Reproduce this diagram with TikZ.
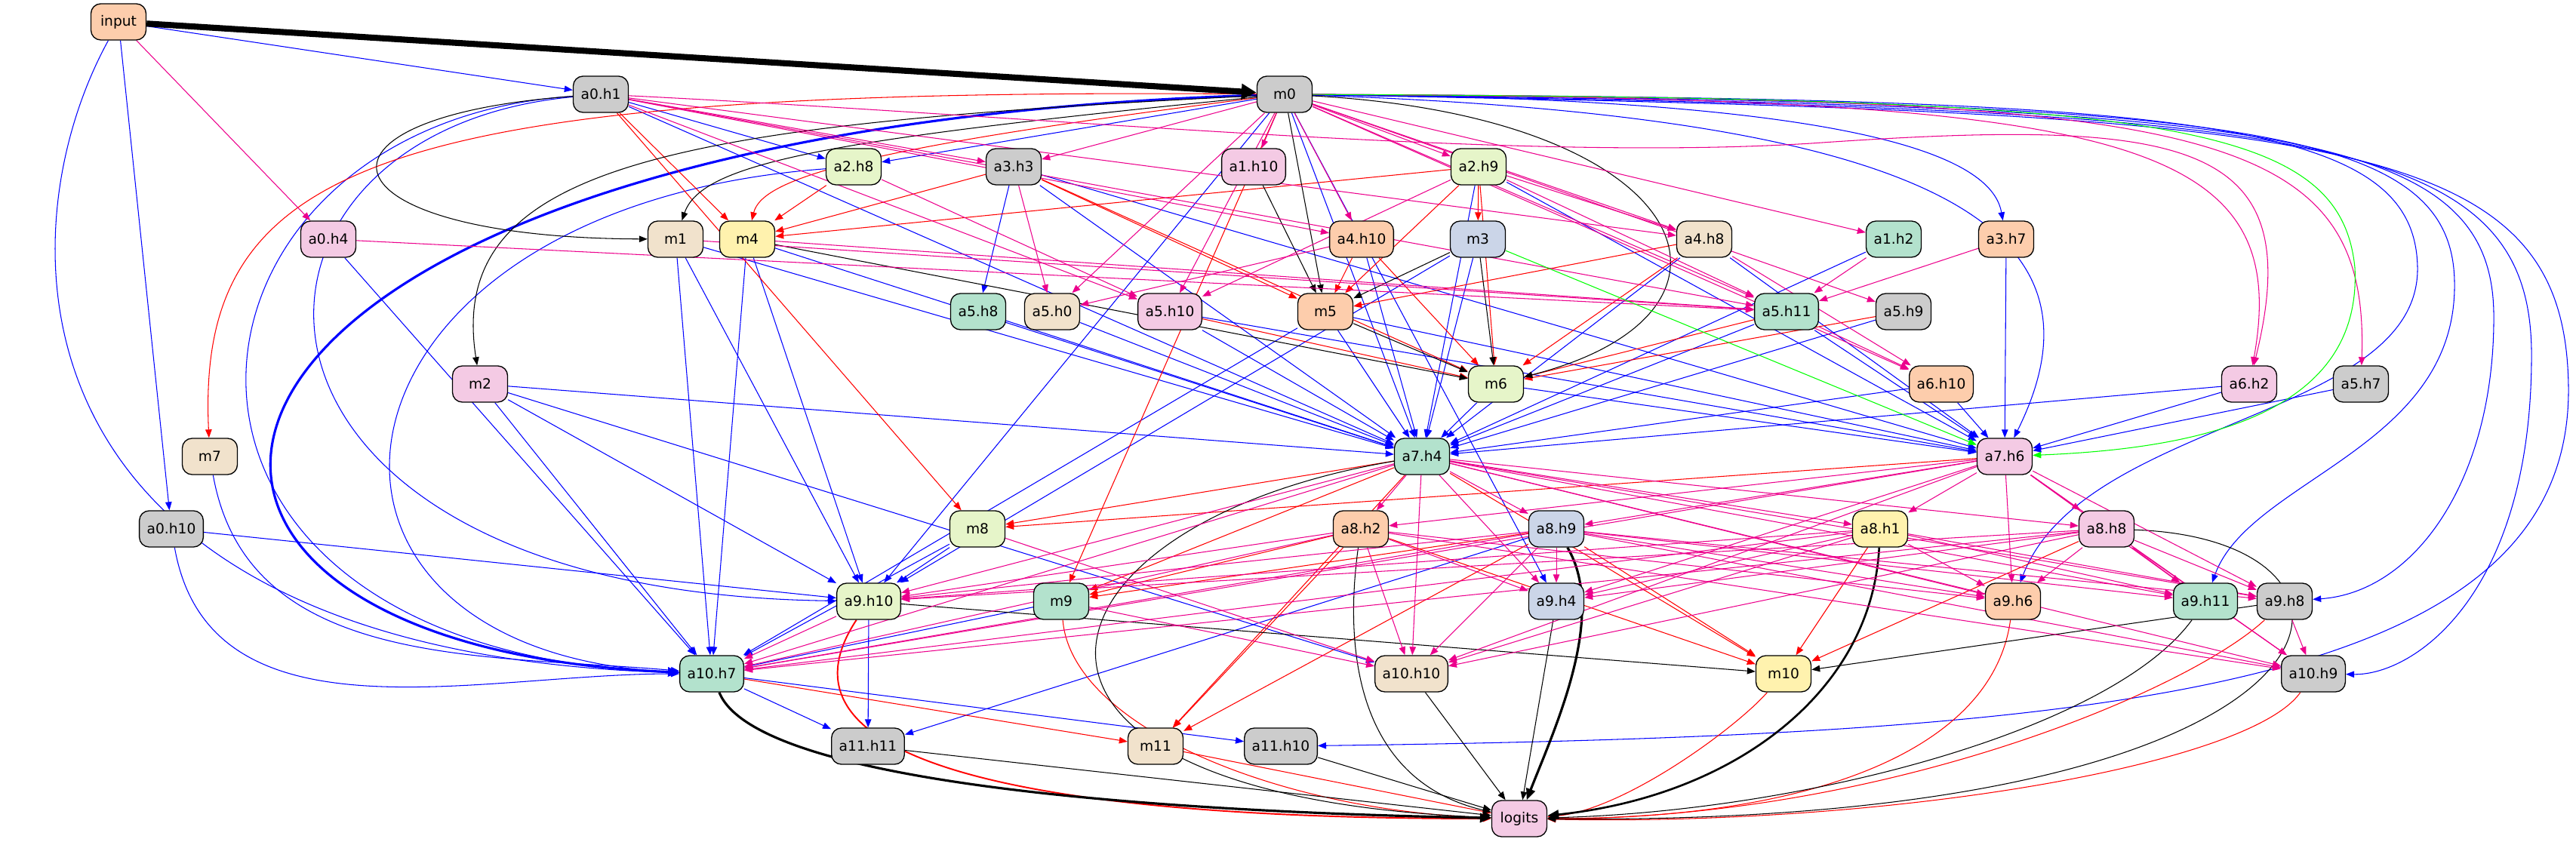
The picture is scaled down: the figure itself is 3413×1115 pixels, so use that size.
\documentclass[tikz,border=0pt]{standalone}
\usepackage{fontspec}
\setmainfont{DejaVu Sans}
\usetikzlibrary{arrows.meta,backgrounds}
\definecolor{cmint}{HTML}{B3E2CD}
\definecolor{cpeach}{HTML}{FDCDAC}
\definecolor{cblue}{HTML}{CBD5E8}
\definecolor{cpink}{HTML}{F4CAE4}
\definecolor{clgreen}{HTML}{E6F5C9}
\definecolor{cyellow}{HTML}{FFF2AE}
\definecolor{cbisque}{HTML}{F1E2CC}
\definecolor{cgray}{HTML}{CCCCCC}
\tikzset{
  box/.style={draw,rounded corners=0.13cm,minimum width=0.73cm,minimum height=0.48cm,
    inner xsep=0.1cm,inner ysep=0pt,line width=0.38pt,font=\fontsize{5.3}{6}\selectfont},
  ed/.style={line width=0.3pt,-{Triangle[length=1.1mm,width=0.85mm]}},
  eb/.style={ed,draw=blue},
  er/.style={ed,draw=red},
  em/.style={ed,draw=magenta},
  ek/.style={ed,draw=black},
  eg/.style={ed,draw=green},
  heavy/.style={line width=0.9pt,-{Triangle[length=1.5mm,width=1.2mm]}}
}
\begin{document}
\begin{tikzpicture}[x=0.01cm,y=0.01cm]
\useasboundingbox (0,0) rectangle (3413,1115);
% nodes: name/label/x/rank/fill
\foreach \nm/\lab/\x/\rk/\col in {%
  input/input/157/0/cpeach,
  a0h1/a0.h1/796/1/cgray, m0/m0/1702/1/cgray,
  a2h8/a2.h8/1131/2/clgreen, a3h3/a3.h3/1343/2/cgray, a1h10/a1.h10/1661/2/cpink, a2h9/a2.h9/1959/2/clgreen,
  a0h4/a0.h4/435/3/cpink, m1/m1/895/3/cbisque, m4/m4/990/3/cyellow, a4h10/a4.h10/1804/3/cpeach,
  m3/m3/1958/3/cblue, a4h8/a4.h8/2258/3/cbisque, a1h2/a1.h2/2509/3/cmint, a3h7/a3.h7/2658/3/cpeach,
  a5h8/a5.h8/1296/4/cmint, a5h0/a5.h0/1394/4/cbisque, a5h10/a5.h10/1550/4/cpink, m5/m5/1756/4/cpeach,
  a5h11/a5.h11/2367/4/cmint, a5h9/a5.h9/2522/4/cgray,
  m2/m2/636/5/cpink, m6/m6/1982/5/clgreen, a6h10/a6.h10/2572/5/cpeach, a6h2/a6.h2/2980/5/cpink, a5h7/a5.h7/3128/5/cgray,
  m7/m7/278/6/cbisque, a7h4/a7.h4/1884/6/cmint, a7h6/a7.h6/2656/6/cpink,
  a0h10/a0.h10/227/7/cgray, m8/m8/1295/7/clgreen, a8h2/a8.h2/1803/7/cpeach, a8h9/a8.h9/2062/7/cblue,
  a8h1/a8.h1/2491/7/cyellow, a8h8/a8.h8/2791/7/cpink,
  a9h10/a9.h10/1151/8/clgreen, m9/m9/1406/8/cmint, a9h4/a9.h4/2062/8/cblue, a9h6/a9.h6/2667/8/cpeach,
  a9h11/a9.h11/2922/8/cmint, a9h8/a9.h8/3027/8/cgray,
  a10h7/a10.h7/943/9/cmint, a10h10/a10.h10/1870/9/cbisque, m10/m10/2363/9/cyellow, a10h9/a10.h9/3065/9/cgray,
  a11h11/a11.h11/1150/10/cgray, m11/m11/1531/10/cbisque, a11h10/a11.h10/1697/10/cgray,
  logits/logits/2013/11/cpink}{%
    \node[box,fill=\col] (\nm) at (\x,{1086-96*\rk}) {\lab};
  }
\begin{scope}[on background layer]
  % blue
  \foreach \src/\tgt in {input/a0h1,input/a0h10,a0h1/a2h8,m0/a2h8,a3h3/a5h8,
    m0/a7h4,a0h1/a7h4,m1/a7h4,m4/a7h4,m2/a7h4,a3h3/a7h4,a5h8/a7h4,a5h0/a7h4,a5h10/a7h4,m5/a7h4,
    m6/a7h4,a2h9/a7h4,m3/a7h4,a4h10/a7h4,a4h8/a7h4,a1h2/a7h4,a5h11/a7h4,a5h9/a7h4,a6h10/a7h4,a6h2/a7h4,
    a6h10/a7h6,a6h2/a7h6,a5h7/a7h6,m6/a7h6,a5h11/a7h6,a3h7/a7h6,a3h3/a7h6,a2h9/a7h6,a4h8/a7h6,m5/a7h6,a5h10/a7h6,
    a0h10/a9h10,m2/a9h10,m0/a9h10,m1/a9h10,m4/a9h10,m8/a9h10,m3/a9h10,m0/a9h4,
    a0h4/a10h7,m1/a10h7,m2/a10h7,m4/a10h7,m8/a10h7,m9/a10h7,m5/a10h7,m2/a10h10,
    a10h7/a11h11,a9h10/a11h11,a8h9/a11h11,a10h7/a11h10}{%
      \draw[eb] (\src) -- (\tgt);
    }
  \draw[eb,heavy] (m0) .. controls (150,940) and (40,260) .. (a10h7);
  \draw[eb] (input) .. controls (0,800) and (0,250) .. (a10h7);
  \draw[eb] (a0h1) .. controls (200,950) and (120,250) .. (a10h7);
  \draw[eb] (a0h1) .. controls (260,940) and (250,330) .. (a9h10);
  \draw[eb] (a2h8) .. controls (400,840) and (330,250) .. (a10h7);
  \draw[eb] (a0h10) to[out=-80,in=180] (a10h7);
  \draw[eb] (m7) to[out=-80,in=175] (a10h7);
  \draw[eb] (m0) .. controls (2500,985) and (2640,900) .. (a3h7);
  \draw[eb] (m0) .. controls (2600,960) and (2800,800) .. (a7h6);
  \draw[eb] (m0) .. controls (2900,985) and (3200,960) .. (3203,760) .. controls (3205,560) and (2760,560) .. (a9h6);
  \draw[eb] (m0) .. controls (2950,980) and (3250,955) .. (3252,740) .. controls (3255,520) and (2980,480) .. (a9h11);
  \draw[eb] (m0) .. controls (3000,975) and (3300,950) .. (3304,700) .. controls (3306,480) and (3200,330) .. (a9h8);
  \draw[eb] (m0) .. controls (3050,970) and (3350,945) .. (3354,650) .. controls (3356,330) and (3200,220) .. (a10h9);
  \draw[eb] (m0) .. controls (3100,965) and (3400,940) .. (3403,600) .. controls (3405,200) and (2800,140) .. (a11h10);
  % red
  \foreach \src/\tgt in {a0h1/m4,a2h8/m4,a3h3/m4,a2h9/m4,a2h9/m3,
    a3h3/m5,a4h10/m5,a4h8/m5,a2h9/m5,
    a4h10/m6,a2h9/m6,a4h8/m6,a3h3/m6,a5h11/m6,a5h9/m6,a5h10/m6,
    a0h1/m8,a7h4/m8,a7h6/m8,m0/m9,a7h4/m9,a8h2/m9,a8h9/m9,
    a7h4/m10,a8h9/m10,a8h1/m10,a8h2/m10,a8h8/m10,
    a8h2/m11,a8h9/m11,a10h7/m11,a7h4/m11,m11/logits}{%
      \draw[er] (\src) -- (\tgt);
    }
  \draw[er] (m0) .. controls (1150,920) and (1010,880) .. (m4);
  \draw[er] (m0) .. controls (500,1000) and (260,900) .. (m7);
  \draw[er,line width=0.55pt] (a9h10) .. controls (1020,120) and (1300,30) .. (logits);
  \draw[er] (m9) .. controls (1420,150) and (1700,40) .. (logits);
  \draw[er] (m10) .. controls (2300,150) and (2150,40) .. (logits);
  \draw[er] (a9h6) .. controls (2640,120) and (2400,30) .. (logits);
  \draw[er] (a9h8) .. controls (2900,200) and (2500,30) .. (logits);
  \draw[er] (a10h9) .. controls (2980,100) and (2500,20) .. (logits);
  % black
  \draw[ek,line width=2.3pt,-{Triangle[length=2mm,width=2mm]}] (input) -- (m0);
  \foreach \src/\tgt in {m0/m5,a1h10/m5,m3/m5,m3/m6,m5/m6,m4/m6,a9h10/m10,a9h8/m10,
    a11h11/logits,a11h10/logits,a10h10/logits,a9h4/logits}{%
      \draw[ek] (\src) -- (\tgt);
    }
  \draw[ek] (m0) .. controls (900,950) and (590,900) .. (m2);
  \draw[ek] (a0h1) .. controls (380,960) and (420,800) .. (m1);
  \draw[ek] (m0) .. controls (1100,930) and (930,900) .. (m1);
  \draw[ek] (m0) .. controls (2250,960) and (2350,700) .. (m6);
  \draw[ek] (a7h4) .. controls (1350,420) and (1250,60) .. (logits);
  \draw[ek] (a8h2) .. controls (1780,250) and (1800,80) .. (logits);
  \draw[ek] (a8h8) .. controls (3200,400) and (3150,20) .. (logits);
  \draw[ek] (a9h11) .. controls (2800,150) and (2400,40) .. (logits);
  \draw[ek,heavy] (a10h7) .. controls (1000,80) and (1500,40) .. (logits);
  \draw[ek,heavy] (a8h9) .. controls (2130,300) and (2060,150) .. (logits);
  \draw[ek,heavy,line width=0.75pt] (a8h1) .. controls (2480,200) and (2300,60) .. (logits);
  % magenta
  \foreach \src/\tgt in {input/a0h4,a0h1/a3h3,m0/a3h3,m0/a1h10,m0/a2h9,m0/a4h10,a0h1/a4h10,
    m0/a4h8,a2h9/a4h8,a0h1/a4h8,m0/a1h2,m0/a5h0,a3h3/a5h0,a4h10/a5h0,
    a0h1/a5h10,a2h8/a5h10,m0/a5h10,a2h9/a5h10,
    a0h1/a5h11,a0h4/a5h11,m1/a5h11,m4/a5h11,m0/a5h11,a2h9/a5h11,a1h2/a5h11,a3h7/a5h11,
    m0/a5h9,m0/a6h10,a4h8/a6h10,a5h11/a6h10,
    a7h4/a8h2,a7h6/a8h2,a7h4/a8h9,a7h6/a8h9,a7h4/a8h1,a7h6/a8h1,a7h4/a8h8,a7h6/a8h8,
    a7h4/a9h10,a8h2/a9h10,a8h9/a9h10,a8h1/a9h10,a8h8/a9h10,
    a7h4/a9h4,a8h2/a9h4,a8h9/a9h4,a7h6/a9h4,a8h1/a9h4,a8h8/a9h4,
    a7h4/a9h6,a7h6/a9h6,a8h2/a9h6,a8h9/a9h6,a8h1/a9h6,a8h8/a9h6,
    a7h4/a9h11,a7h6/a9h11,a8h9/a9h11,a8h1/a9h11,a8h8/a9h11,
    a7h4/a9h8,a7h6/a9h8,a8h9/a9h8,a8h1/a9h8,a8h8/a9h8,
    a9h10/a10h7,a7h4/a10h7,a7h6/a10h7,a8h2/a10h7,a8h9/a10h7,a8h1/a10h7,a8h8/a10h7,
    a7h4/a10h10,a7h6/a10h10,a8h2/a10h10,a8h9/a10h10,a8h1/a10h10,a8h8/a10h10,m8/a10h10,m9/a10h10,
    a9h8/a10h9,a7h6/a10h9,a8h8/a10h9,a8h9/a10h9,a8h2/a10h9,a7h4/a10h9}{%
      \draw[em] (\src) -- (\tgt);
    }
  \draw[em] (m0) .. controls (2800,985) and (3040,940) .. (a6h2);
  \draw[em] (a0h1) .. controls (1400,960) and (2000,900) .. (2400,925) .. controls (2900,960) and (3060,930) .. (a6h2);
  \draw[em] (m0) .. controls (2900,985) and (3140,960) .. (a5h7);
  % green
  \draw[eg] (m3) -- (a7h6);
  \draw[eg] (m0) .. controls (2850,985) and (3100,960) .. (3120,760) .. controls (3130,560) and (2900,520) .. (a7h6);
\end{scope}
\end{tikzpicture}
\end{document}
